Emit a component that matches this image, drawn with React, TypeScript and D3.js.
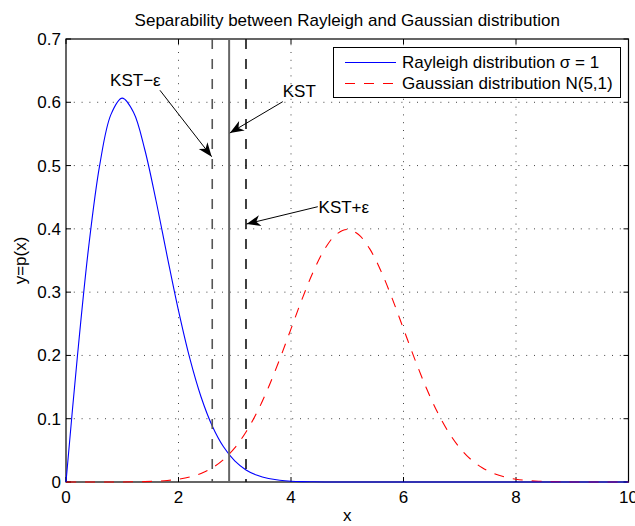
import React from "react";
import * as d3 from "d3";

const W = 635;
const H = 526;
const M = { left: 66, right: 6.5, top: 39, bottom: 44 };

const xGrid = [0, 0.2, 0.4, 0.6, 0.8, 1.0, 1.2, 1.4, 1.6, 1.8, 2.0, 2.2, 2.4, 2.6, 2.8, 3.0, 3.2, 3.4, 3.6, 3.8, 4.0, 4.2, 4.4, 4.6, 4.8, 5.0, 5.2, 5.4, 5.6, 5.8, 6.0, 6.2, 6.4, 6.6, 6.8, 7.0, 7.2, 7.4, 7.6, 7.8, 8.0, 8.2, 8.4, 8.6, 8.8, 9.0, 9.2, 9.4, 9.6, 9.8, 10.0];

const rayleigh = [0, 0.196, 0.3692, 0.5012, 0.5809, 0.6065, 0.5842, 0.5254, 0.4448, 0.3562, 0.2707, 0.1956, 0.1347, 0.0885, 0.0556, 0.0333, 0.0191, 0.0105, 0.0055, 0.0028, 0.0013, 0.0006, 0.0003, 0.0001, 0, 0, 0, 0, 0, 0, 0, 0, 0, 0, 0, 0, 0, 0, 0, 0, 0, 0, 0, 0, 0, 0, 0, 0, 0, 0, 0];

const gaussian = [0, 0, 0, 0, 0.0001, 0.0001, 0.0003, 0.0006, 0.0012, 0.0024, 0.0044, 0.0079, 0.0136, 0.0224, 0.0355, 0.054, 0.079, 0.1109, 0.1497, 0.1942, 0.242, 0.2897, 0.3332, 0.3683, 0.391, 0.3989, 0.391, 0.3683, 0.3332, 0.2897, 0.242, 0.1942, 0.1497, 0.1109, 0.079, 0.054, 0.0355, 0.0224, 0.0136, 0.0079, 0.0044, 0.0024, 0.0012, 0.0006, 0.0003, 0.0001, 0.0001, 0, 0, 0, 0];

const xTicks = [0, 2, 4, 6, 8, 10];
const yTicks = [0, 0.1, 0.2, 0.3, 0.4, 0.5, 0.6, 0.7];

const kst = 2.9;
const eps = 0.3;

const title = "Separability between Rayleigh and Gaussian distribution";
const xLabel = "x";
const yLabel = "y=p(x)";
const legendLabels = ["Rayleigh distribution \u03c3 = 1", "Gaussian distribution N(5,1)"];

// annotation text position and arrow (start -> tip), in data units
const annotations = [
  { text: "KST\u2212\u03b5", tx: 1.234, ty: 0.635, sx: 1.67, sy: 0.619, ex: 2.59, ey: 0.514, anchor: "middle" },
  { text: "KST", tx: 4.148, ty: 0.618, sx: 3.854, sy: 0.601, ex: 2.913, ey: 0.5515, anchor: "middle" },
  { text: "KST+\u03b5", tx: 4.49, ty: 0.4345, sx: 4.476, sy: 0.435, ex: 3.21, ey: 0.4077, anchor: "start" },
];

const FONT = "'Liberation Sans', Arial, Helvetica, sans-serif";

export default function App() {
  const x = d3.scaleLinear().domain([0, 10]).range([M.left, W - M.right]);
  const y = d3.scaleLinear().domain([0, 0.7]).range([H - M.bottom, M.top]);
  const x0 = x(0), x1 = x(10), y0 = y(0), y1 = y(0.7);

  const line = d3
    .line<number>()
    .x((_, i) => x(xGrid[i]))
    .curve(d3.curveCatmullRom);
  const rPath = line.y((d) => y(d))(rayleigh) || "";
  const gPath = line.y((d) => y(d))(gaussian) || "";

  const tick = 5;
  const fs = 17;

  const arrowHead = (sx: number, sy: number, ex: number, ey: number) => {
    const ang = Math.atan2(ey - sy, ex - sx);
    const L = 14;
    const Wd = 5.5;
    const back = 10;
    const p = (a: number, b: number) => {
      const c = Math.cos(ang), s = Math.sin(ang);
      return [ex + a * c - b * s, ey + a * s + b * c];
    };
    const pts = [p(0, 0), p(-L, -Wd), p(-back, 0), p(-L, Wd)];
    return pts.map((q) => q.join(",")).join(" ");
  };

  return (
    <svg width={W} height={H} style={{ display: "block", position: "absolute", left: 0, top: 0 }} fontFamily={FONT}>
      <rect x={0} y={0} width={W} height={H} fill="#fff" />
      {/* grid */}
      <g stroke="#444" strokeWidth={1} strokeDasharray="1,6.8">
        {xTicks.slice(1, -1).map((t) => (
          <line key={"gx" + t} x1={x(t)} x2={x(t)} y1={y0} y2={y1} />
        ))}
        {yTicks.slice(1, -1).map((t) => (
          <line key={"gy" + t} x1={x0} x2={x1} y1={y(t)} y2={y(t)} />
        ))}
      </g>
      {/* axes box & ticks */}
      <rect x={x0} y={y1} width={x1 - x0} height={y0 - y1} fill="none" stroke="#000" strokeWidth={1.2} />
      <g stroke="#000" strokeWidth={1}>
        {xTicks.map((t) => (
          <g key={"tx" + t}>
            <line x1={x(t)} x2={x(t)} y1={y0} y2={y0 - tick} />
            <line x1={x(t)} x2={x(t)} y1={y1} y2={y1 + tick} />
          </g>
        ))}
        {yTicks.map((t) => (
          <g key={"ty" + t}>
            <line x1={x0} x2={x0 + tick} y1={y(t)} y2={y(t)} />
            <line x1={x1} x2={x1 - tick} y1={y(t)} y2={y(t)} />
          </g>
        ))}
      </g>
      {/* curves */}
      <path d={gPath} fill="none" stroke="#ff0000" strokeWidth={1.1} strokeDasharray="10,9" />
      <path d={rPath} fill="none" stroke="#0000ff" strokeWidth={1.1} />
      {/* threshold lines */}
      <line x1={x(kst)} x2={x(kst)} y1={y0} y2={y1} stroke="#666" strokeWidth={2} />
      <line x1={x(kst - eps)} x2={x(kst - eps)} y1={y1} y2={y0} stroke="#555" strokeWidth={1.6} strokeDasharray="10,10" />
      <line x1={x(kst + eps)} x2={x(kst + eps)} y1={y1} y2={y0} stroke="#111" strokeWidth={1.6} strokeDasharray="10,10" />
      {/* tick labels */}
      <g fontSize={fs} fill="#000">
        {xTicks.map((t) => (
          <text key={"lx" + t} x={x(t)} y={y0 + 21} textAnchor="middle">
            {d3.format("~g")(t)}
          </text>
        ))}
        {yTicks.map((t) => (
          <text key={"ly" + t} x={x0 - 5} y={y(t)} dy="0.35em" textAnchor="end">
            {t === 0 ? "0" : d3.format(".1f")(t)}
          </text>
        ))}
      </g>
      {/* title and labels */}
      <text x={(x0 + x1) / 2} y={26} textAnchor="middle" fontSize={fs}>
        {title}
      </text>
      <text x={(x0 + x1) / 2} y={521} textAnchor="middle" fontSize={fs}>
        {xLabel}
      </text>
      <text transform={`translate(26,${(y0 + y1) / 2}) rotate(-90)`} textAnchor="middle" fontSize={fs}>
        {yLabel}
      </text>
      {/* legend */}
      <g>
        <rect x={333.5} y={47.5} width={287} height={50} fill="#fff" stroke="#000" strokeWidth={1} />
        <line x1={345} x2={396} y1={62.5} y2={62.5} stroke="#0000ff" strokeWidth={1.1} />
        <line x1={345} x2={396} y1={83.5} y2={83.5} stroke="#ff0000" strokeWidth={1.1} strokeDasharray="10,9" />
        <text x={402} y={62.5} dy="0.35em" fontSize={fs}>
          {legendLabels[0]}
        </text>
        <text x={402} y={83.5} dy="0.35em" fontSize={fs}>
          {legendLabels[1]}
        </text>
      </g>
      {/* annotations */}
      {annotations.map((a, i) => {
        const sx = x(a.sx), sy = y(a.sy), ex = x(a.ex), ey = y(a.ey);
        return (
          <g key={"an" + i}>
            <line x1={sx} y1={sy} x2={ex} y2={ey} stroke="#000" strokeWidth={1} />
            <polygon points={arrowHead(sx, sy, ex, ey)} fill="#000" />
            <text x={x(a.tx)} y={y(a.ty)} dy="0.35em" textAnchor={a.anchor} fontSize={fs}>
              {a.text}
            </text>
          </g>
        );
      })}
    </svg>
  );
}
